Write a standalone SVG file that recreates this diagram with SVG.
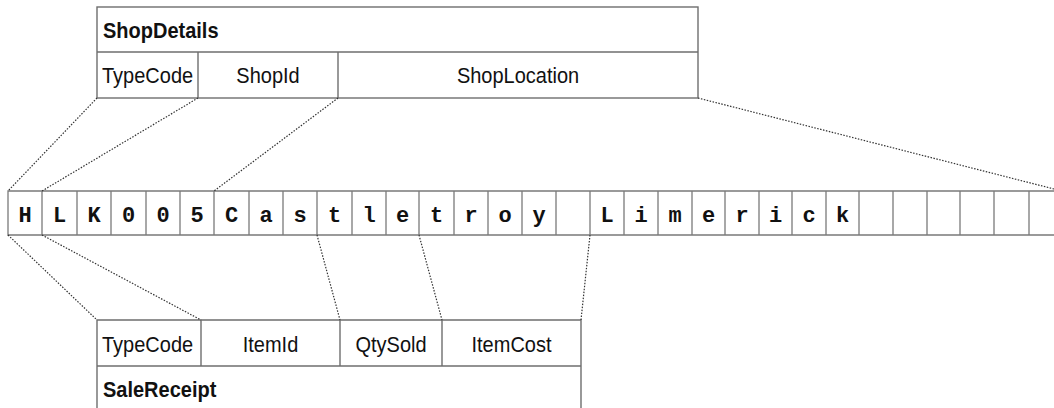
<svg xmlns="http://www.w3.org/2000/svg" width="1054" height="408" viewBox="0 0 1054 408">
<style>
.box{fill:none;stroke:#6e6e6e;stroke-width:1.4}
.cell{fill:none;stroke:#7a7a7a;stroke-width:1.3}
.lbl{font-family:"Liberation Sans",Arial,sans-serif;font-size:20px;fill:#111}
.ttl{font-family:"Liberation Sans",Arial,sans-serif;font-size:20px;font-weight:bold;fill:#111}
.ch{font-family:"Liberation Mono","Courier New",monospace;font-size:22px;font-weight:bold;fill:#111;text-anchor:middle}
.dot{fill:none;stroke:#333;stroke-width:1.2;stroke-dasharray:1.5 1.5}
</style>
<rect width="1054" height="408" fill="#fff"/>
<g id="shopdetails">
<rect class="box" x="97" y="7" width="601" height="91"/>
<line class="box" x1="97" y1="52" x2="698" y2="52"/>
<line class="box" x1="198" y1="52" x2="198" y2="98"/>
<line class="box" x1="338" y1="52" x2="338" y2="98"/>
<text class="ttl" transform="matrix(1 0 0 1.12 103 38)">ShopDetails</text>
<text class="lbl" transform="matrix(1 0 0 1.12 102 83)">TypeCode</text>
<text class="lbl" transform="matrix(1 0 0 1.12 268 83)" text-anchor="middle">ShopId</text>
<text class="lbl" transform="matrix(1 0 0 1.12 518 83)" text-anchor="middle">ShopLocation</text>
</g>
<g id="record">
<path class="cell" d="M1060,191 H8 V235 H1060"/>
<path class="cell" d="M42,191V235M77,191V235M111,191V235M146,191V235M180,191V235M214,191V235M249,191V235M283,191V235M317,191V235M352,191V235M386,191V235M419,191V235M454,191V235M488,191V235M522,191V235M556,191V235M590,191V235M624,191V235M658,191V235M692,191V235M725,191V235M759,191V235M792,191V235M826,191V235M859,191V235M893,191V235M927,191V235M960,191V235M994,191V235M1029,191V235"/>
<text class="ch" y="222"><tspan x="25">H</tspan><tspan x="59.5">L</tspan><tspan x="94">K</tspan><tspan x="128.5">0</tspan><tspan x="163">0</tspan><tspan x="197">5</tspan><tspan x="231.5">C</tspan><tspan x="266">a</tspan><tspan x="300">s</tspan><tspan x="334.5">t</tspan><tspan x="369">l</tspan><tspan x="402.5">e</tspan><tspan x="436.5">t</tspan><tspan x="471">r</tspan><tspan x="505">o</tspan><tspan x="539">y</tspan><tspan x="607">L</tspan><tspan x="641">i</tspan><tspan x="675">m</tspan><tspan x="708.5">e</tspan><tspan x="742">r</tspan><tspan x="775.5">i</tspan><tspan x="809">c</tspan><tspan x="842.5">k</tspan></text>
</g>
<g id="salereceipt">
<path class="box" d="M97,420 V320 H581 V420"/>
<line class="box" x1="97" y1="366" x2="581" y2="366"/>
<line class="box" x1="201" y1="320" x2="201" y2="366"/>
<line class="box" x1="340" y1="320" x2="340" y2="366"/>
<line class="box" x1="442" y1="320" x2="442" y2="366"/>
<text class="lbl" transform="matrix(1 0 0 1.12 102 352)">TypeCode</text>
<text class="lbl" transform="matrix(1 0 0 1.12 270.5 352)" text-anchor="middle">ItemId</text>
<text class="lbl" transform="matrix(1 0 0 1.12 391 352)" text-anchor="middle">QtySold</text>
<text class="lbl" transform="matrix(1 0 0 1.12 511.5 352)" text-anchor="middle">ItemCost</text>
<text class="ttl" transform="matrix(1 0 0 1.12 103 397)">SaleReceipt</text>
</g>
<g id="connectors">
<line class="dot" x1="97" y1="98" x2="8" y2="191"/>
<line class="dot" x1="198" y1="98" x2="42" y2="191"/>
<line class="dot" x1="338" y1="98" x2="214" y2="191"/>
<line class="dot" x1="698" y1="98" x2="1054" y2="189"/>
<line class="dot" x1="8" y1="235" x2="97" y2="320"/>
<line class="dot" x1="42" y1="235" x2="201" y2="320"/>
<line class="dot" x1="317" y1="235" x2="340" y2="320"/>
<line class="dot" x1="419" y1="235" x2="442" y2="320"/>
<line class="dot" x1="590" y1="235" x2="581" y2="320"/>
</g>
</svg>
